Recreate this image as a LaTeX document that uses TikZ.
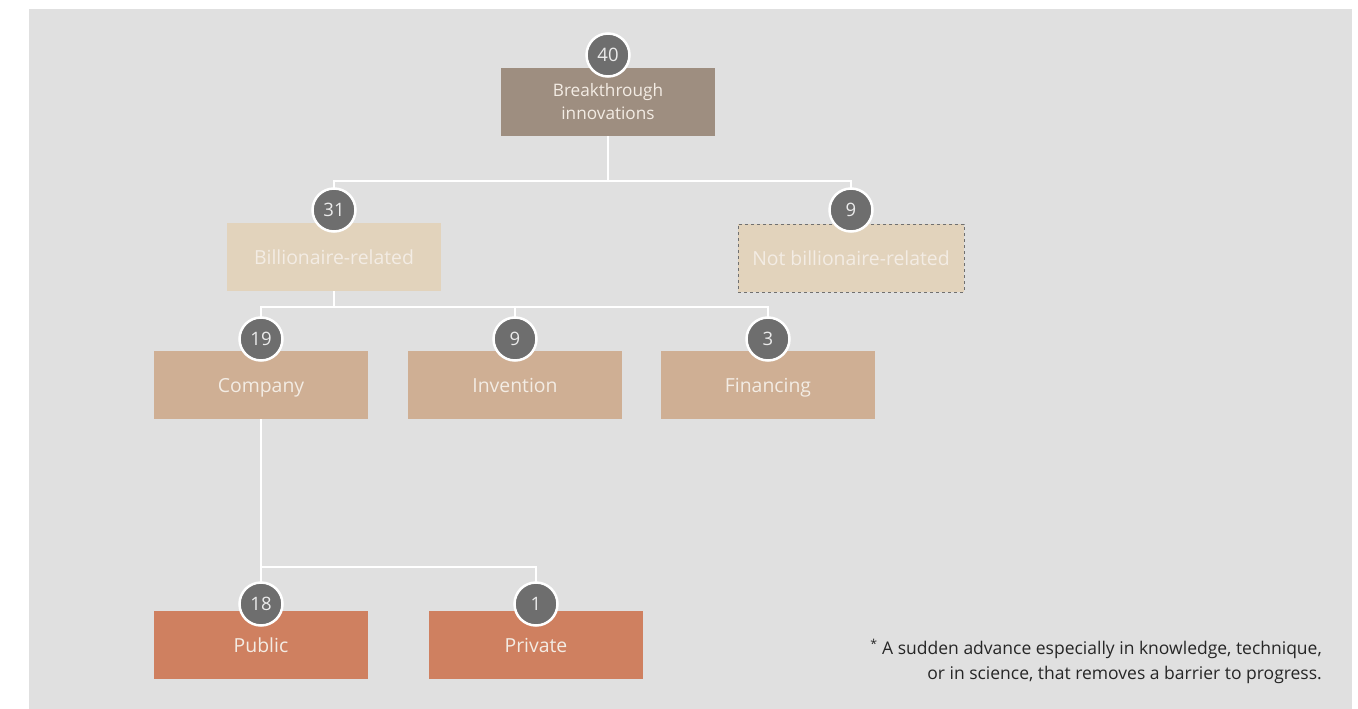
\documentclass[tikz,border=0pt]{standalone}
\usepackage{fontspec}
\setmainfont{Open Sans}
\begin{document}
\begin{tikzpicture}[x=1pt,y=-1pt,
  basebox/.style={minimum width=214pt,minimum height=68pt,inner sep=0pt,text=boxtext,align=center},
  box/.style={basebox,font=\fontsize{19.4}{22}\selectfont,text height=14pt,text depth=0pt},
  twoline/.style={basebox,font=\fontsize{17.2}{23}\selectfont},
  num/.style={circle,fill=numgrey,draw=white,line width=2.5pt,minimum size=43pt,inner sep=0pt,text=white!92!black,font=\fontsize{18.5}{20}\selectfont},
  link/.style={draw=white,line width=1.6pt}]
\definecolor{bg}{HTML}{E0E0E0}
\definecolor{numgrey}{HTML}{6E6E6E}
\definecolor{boxtext}{HTML}{F3ECE4}
\definecolor{cTop}{HTML}{9E8E80}
\definecolor{cBil}{HTML}{E2D3BC}
\definecolor{cMid}{HTML}{CFAF94}
\definecolor{cLow}{HTML}{CF8060}
\definecolor{dashgrey}{HTML}{707070}
\useasboundingbox (0,0) rectangle (1358,709);
\fill[white] (0,0) rectangle (1358,709);
\fill[bg] (29,9) rectangle (1352,709);
% boxes
\node[twoline,fill=cTop] (top) at (608,102) {Breakthrough\\innovations};
\node[box,fill=cBil] (bil) at (334,257) {Billionaire-related};
\node[box,fill=cBil,draw=dashgrey,dashed,line width=1pt,minimum width=226pt] (nbil) at (851,258) {Not billionaire-related};
\node[box,fill=cMid] (comp) at (261,385) {Company};
\node[box,fill=cMid] (inv) at (515,385) {Invention};
\node[box,fill=cMid] (fin) at (768,385) {Financing};
\node[box,fill=cLow] (pub) at (261,645) {Public};
\node[box,fill=cLow] (priv) at (536,645) {Private};
% junction coordinates
\coordinate (j1) at (608,181);
\coordinate (j2) at (334,307);
\coordinate (j3) at (261,567);
% connectors
\draw[link] (top.south) -- (j1);
\draw[link] (j1) -| (bil.north);
\draw[link] (j1) -| (nbil.north);
\draw[link] (bil.south) -- (j2);
\draw[link] (j2) -| (comp.north);
\draw[link] (j2) -| (inv.north);
\draw[link] (j2) -| (fin.north);
\draw[link] (comp.south) -- (j3) -- (pub.north);
\draw[link] (j3) -| (priv.north);
% number badges
\node[num] (n40) at (608,55) {40};
\node[num] (n31) at (334,210) {31};
\node[num] (n9a) at (851,210) {9};
\node[num] (n19) at (261,339) {19};
\node[num] (n9b) at (515,339) {9};
\node[num] (n3) at (768,339) {3};
\node[num] (n18) at (261,604) {18};
\node[num] (n1) at (536,604) {1};
% footnote
\node[anchor=north east,align=right,text=black!85,font=\fontsize{17.5}{24.5}\selectfont,inner sep=0pt] (foot) at (1322,639)
  {\textsuperscript{*} A sudden advance especially in knowledge, technique,\\or in science, that removes a barrier to progress.};
\end{tikzpicture}
\end{document}
